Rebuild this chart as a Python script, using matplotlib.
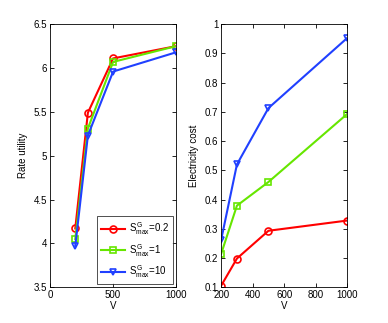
import numpy as np
import matplotlib.pyplot as plt

# Datos
V = [200, 300, 500, 1000]
utilidad_02 = [4.17, 5.49, 6.11, 6.25]
utilidad_1 = [4.05, 5.31, 6.07, 6.25]
utilidad_10 = [3.97, 5.23, 5.96, 6.18]
coste_02 = [0.105, 0.198, 0.293, 0.328]
coste_1 = [0.214, 0.379, 0.460, 0.693]
coste_10 = [0.262, 0.520, 0.713, 0.953]
etiquetas = [r'$S^G_{max}$=0.2', r'$S^G_{max}$=1', r'$S^G_{max}$=10']

rojo = '#ff0000'
verde = '#66e600'
azul = '#2040ff'
estilos = [(rojo, 'o'), (verde, 's'), (azul, 'v')]

plt.rcParams['font.family'] = ['Liberation Sans', 'DejaVu Sans']
plt.rcParams['mathtext.fontset'] = 'custom'
plt.rcParams['mathtext.rm'] = 'Liberation Sans'
plt.rcParams['mathtext.it'] = 'Liberation Sans'

fig = plt.figure(figsize=(3.88, 3.23), dpi=100)
ax1 = fig.add_axes([0.129, 0.111, 0.325, 0.814])
ax2 = fig.add_axes([0.570, 0.111, 0.325, 0.814])

for serie, (c, m), lab in zip([utilidad_02, utilidad_1, utilidad_10], estilos, etiquetas):
    ax1.plot(V, serie, color=c, marker=m, markersize=5, markerfacecolor='none',
             markeredgewidth=1.2, linewidth=1.5, label=lab)
for serie, (c, m) in zip([coste_02, coste_1, coste_10], estilos):
    ax2.plot(V, serie, color=c, marker=m, markersize=5, markerfacecolor='none',
             markeredgewidth=1.2, linewidth=1.5)

ax1.set_xlim(0, 1000)
ax1.set_ylim(3.5, 6.5)
ax1.set_xticks([0, 500, 1000])
ax1.set_yticks(np.arange(3.5, 6.51, 0.5))
ax1.set_yticklabels(['3.5', '4', '4.5', '5', '5.5', '6', '6.5'])
ax1.set_xlabel('V', fontsize=7, labelpad=1)
ax1.set_ylabel('Rate utility', fontsize=7, labelpad=4)

ax2.set_xlim(200, 1000)
ax2.set_ylim(0.1, 1.0)
ax2.set_xticks([200, 400, 600, 800, 1000])
ax2.set_yticks(np.arange(0.1, 1.01, 0.1))
ax2.set_yticklabels(['0.1', '0.2', '0.3', '0.4', '0.5', '0.6', '0.7', '0.8', '0.9', '1'])
ax2.set_xlabel('V', fontsize=7, labelpad=1)
ax2.set_ylabel('Electricity cost', fontsize=7, labelpad=4)

for ax in (ax1, ax2):
    ax.tick_params(direction='in', labelsize=7, length=3, width=0.6,
                   top=True, right=True, pad=2)
    for s in ax.spines.values():
        s.set_linewidth(0.6)

leg = ax1.legend(loc='lower right', fontsize=7, frameon=True, fancybox=False,
                 edgecolor='black', handlelength=2.5, borderpad=0.4,
                 labelspacing=0.5, handletextpad=0.4, borderaxespad=0.3)
leg.get_frame().set_linewidth(0.6)

fig.savefig('out.png', dpi=100)
